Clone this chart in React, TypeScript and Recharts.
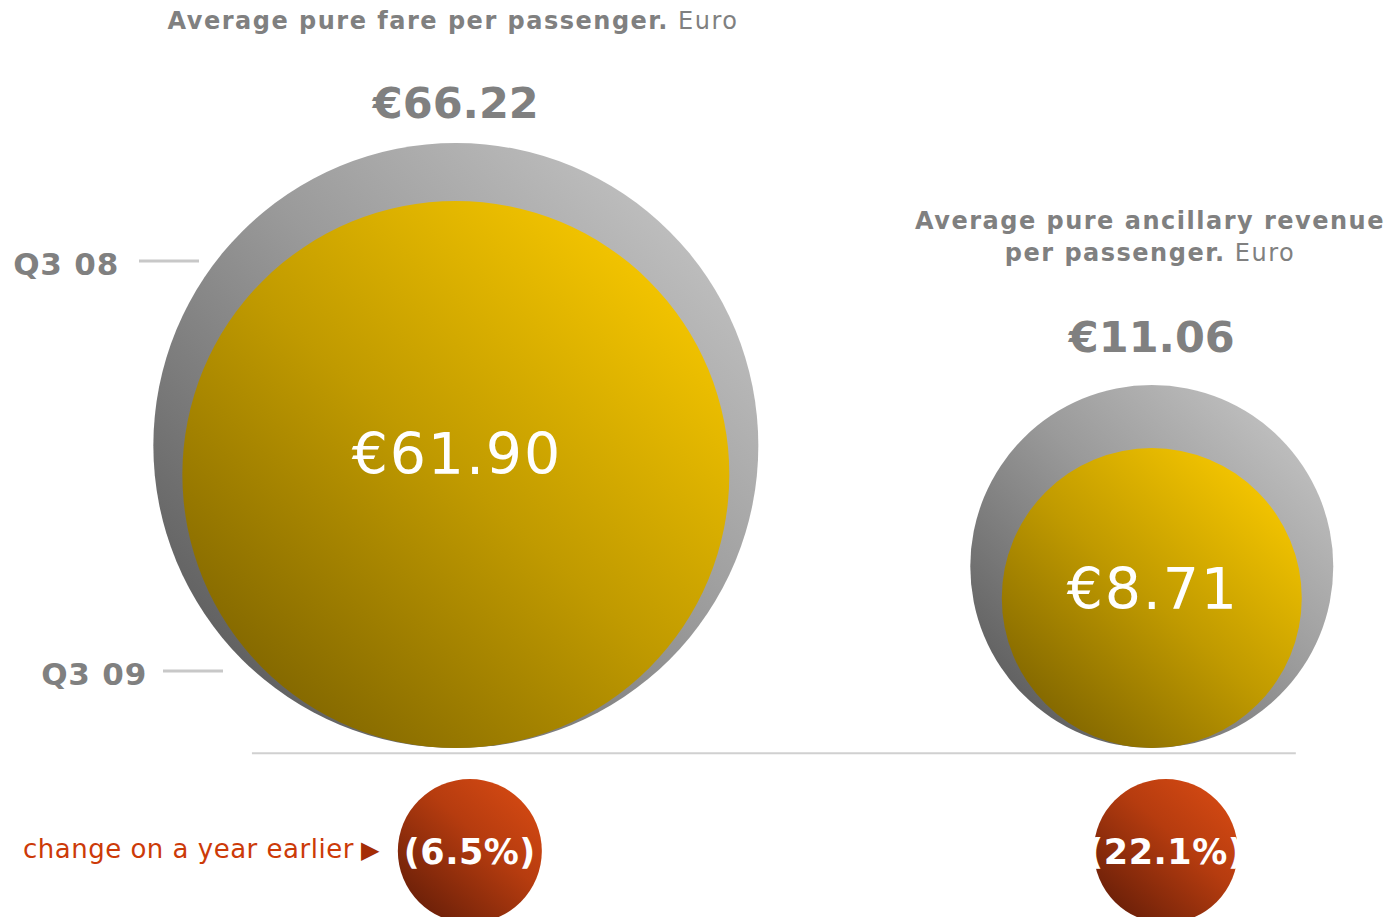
import { ScatterChart, Scatter, XAxis, YAxis, ZAxis, ReferenceLine } from "recharts";

const PANELS = ["fare", "ancillary"];
const Q3_08 = [66.22, 11.06];
const Q3_09 = [61.9, 8.71];
const CHANGE = ["(6.5%)", "(22.1%)"];

const FONT = "'DejaVu Sans', Verdana, sans-serif";
const GREY_TEXT = "#808080";

const point = (i: number, values: number[]) => [{ x: i, y: 0, z: values[i], panel: PANELS[i] }];
const fare08 = point(0, Q3_08);
const fare09 = point(0, Q3_09);
const anc08 = point(1, Q3_08);
const anc09 = point(1, Q3_09);
const changeData = CHANGE.map((label, i) => ({ x: i, y: -1, label }));

const euro = (v: number) => `€${v.toFixed(2)}`;

function radiusOf(props: any) {
  if (props.width) return props.width / 2;
  return Math.sqrt(Math.max(props.size || 0, 0) / Math.PI);
}

// grey = Q3 08, sits behind; label above the bubble
function GreyBubble(props: any) {
  const { cx, cy, payload } = props;
  const r = radiusOf(props);
  const gap = 45 - r * 0.066;
  return (
    <g>
      <circle cx={cx} cy={cy - r} r={r} fill="url(#gradGrey)" />
      <text
        x={cx}
        y={cy - 2 * r - gap}
        textAnchor="middle"
        fontFamily={FONT}
        fontWeight="bold"
        fontSize={43}
        fill={GREY_TEXT}
      >
        {euro(payload.z)}
      </text>
    </g>
  );
}

// yellow = Q3 09, value written inside
function YellowBubble(props: any) {
  const { cx, cy, payload } = props;
  const r = radiusOf(props);
  return (
    <g>
      <circle cx={cx} cy={cy - r} r={r} fill="url(#gradYellow)" />
      <text
        x={cx + 1}
        y={cy - r - (r * 0.093 - 5)}
        textAnchor="middle"
        dominantBaseline="central"
        fontFamily={FONT}
        fontSize={57}
        letterSpacing={1.8}
        fill="#ffffff"
      >
        {euro(payload.z)}
      </text>
    </g>
  );
}

function ChangeBubble(props: any) {
  const { cx, cy, payload } = props;
  const x = cx + 14;
  return (
    <g>
      <circle cx={x} cy={cy} r={72} fill="url(#gradOrange)" />
      <text
        x={x}
        y={cy + 1}
        textAnchor="middle"
        dominantBaseline="central"
        fontFamily={FONT}
        fontWeight="bold"
        fontSize={35}
        letterSpacing={0.5}
        fill="#ffffff"
      >
        {payload.label}
      </text>
    </g>
  );
}

export default function App() {
  return (
    <div style={{ position: "absolute", left: 0, top: 0, background: "#fff" }}>
      <ScatterChart width={1387} height={917} margin={{ top: 0, right: 0, bottom: 0, left: 0 }}>
        <defs>
          <linearGradient id="gradGrey" x1="0" y1="1" x2="1" y2="0">
            <stop offset="0%" stopColor="#4e4e4e" />
            <stop offset="55%" stopColor="#9a9a9a" />
            <stop offset="100%" stopColor="#cdcdcd" />
          </linearGradient>
          <linearGradient id="gradYellow" x1="0.1" y1="0.95" x2="0.9" y2="0.05">
            <stop offset="0%" stopColor="#7a6000" />
            <stop offset="50%" stopColor="#c09a00" />
            <stop offset="100%" stopColor="#fbcb00" />
          </linearGradient>
          <linearGradient id="gradOrange" x1="0.1" y1="0.95" x2="0.9" y2="0.05">
            <stop offset="0%" stopColor="#641d08" />
            <stop offset="60%" stopColor="#b63c0f" />
            <stop offset="100%" stopColor="#d64a13" />
          </linearGradient>
        </defs>

        <XAxis type="number" dataKey="x" domain={[-0.655, 1.338]} hide />
        <YAxis type="number" dataKey="y" domain={[-1.64, 7.26]} hide />
        <ZAxis zAxisId="fare" type="number" dataKey="z" domain={[60, 68]} range={[211900, 309100]} />
        <ZAxis zAxisId="anc" type="number" dataKey="z" domain={[8, 12]} range={[60770, 116610]} />
        <ZAxis zAxisId="chg" type="number" dataKey="z" range={[16000, 16000]} />

        <Scatter data={fare08} zAxisId="fare" shape={GreyBubble} isAnimationActive={false} />
        <Scatter data={fare09} zAxisId="fare" shape={YellowBubble} isAnimationActive={false} />
        <Scatter data={anc08} zAxisId="anc" shape={GreyBubble} isAnimationActive={false} />
        <Scatter data={anc09} zAxisId="anc" shape={YellowBubble} isAnimationActive={false} />

        <ReferenceLine
          segment={[{ x: -0.293, y: -0.05 }, { x: 1.207, y: -0.05 }]}
          stroke="#d0d0d0"
          strokeWidth={2}
        />

        <Scatter data={changeData} zAxisId="chg" shape={ChangeBubble} isAnimationActive={false} />

        {/* titles */}
        <text x={453} y={29} textAnchor="middle" fontFamily={FONT} fontSize={24} letterSpacing={1.5} fill={GREY_TEXT}>
          <tspan fontWeight="bold">Average pure fare per passenger.</tspan>
          <tspan> Euro</tspan>
        </text>
        <text x={1150} y={229} textAnchor="middle" fontFamily={FONT} fontSize={24} letterSpacing={1.5} fill={GREY_TEXT}>
          <tspan fontWeight="bold">Average pure ancillary revenue</tspan>
        </text>
        <text x={1150} y={261} textAnchor="middle" fontFamily={FONT} fontSize={24} letterSpacing={1.5} fill={GREY_TEXT}>
          <tspan fontWeight="bold">per passenger.</tspan>
          <tspan> Euro</tspan>
        </text>

        {/* period markers */}
        <text x={119} y={275} textAnchor="end" fontFamily={FONT} fontWeight="bold" fontSize={31} letterSpacing={0.8} fill={GREY_TEXT}>
          Q3 08
        </text>
        <line x1={139} y1={261} x2={199} y2={261} stroke="#c8c8c8" strokeWidth={3} />
        <text x={147} y={685} textAnchor="end" fontFamily={FONT} fontWeight="bold" fontSize={31} letterSpacing={0.8} fill={GREY_TEXT}>
          Q3 09
        </text>
        <line x1={163} y1={671} x2={223} y2={671} stroke="#c8c8c8" strokeWidth={3} />

        <text x={23} y={858} fontFamily={FONT} fontSize={26} letterSpacing={0.5} fill="#cc3a08">
          change on a year earlier
        </text>
        <text x={361} y={858} fontFamily={FONT} fontSize={24} fill="#a42c05">
          ▶
        </text>
      </ScatterChart>
    </div>
  );
}
